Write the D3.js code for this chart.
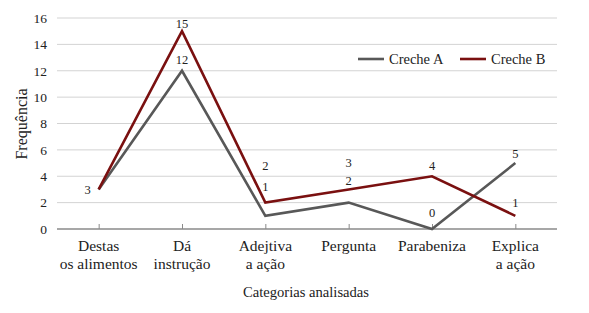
<!DOCTYPE html>
<html>
<head>
<meta charset="utf-8">
<script src="https://cdn.jsdelivr.net/npm/d3@7"></script>
<style>
	body { margin: 0; background: #fff; }
	svg text { font-family: 'Liberation Serif', 'Times New Roman', serif !important; fill: #222; }
</style>
</head>
<body>
<div id="chart"></div>
<script>
// Data
var categories = [["Destas", "os alimentos"], ["Dá", "instrução"], ["Adejtiva", "a ação"], ["Pergunta"], ["Parabeniza"], ["Explica", "a ação"]];
var crecheA = [3, 12, 1, 2, 0, 5];
var crecheB = [3, 15, 2, 3, 4, 1];
var yTicks = [0, 2, 4, 6, 8, 10, 12, 14, 16];
var seriesNames = ["Creche A", "Creche B"];

// Label nudges (pixels above the point); null = no label
var labelNudgeA = [null, 11, 29, 22, 16, 9];
var labelNudgeB = [null, 8, 37, 27, 11, 13];

var width = 589, height = 313;
var margin = {top: 18, right: 32, bottom: 84, left: 57};
var color = d3.scaleOrdinal().domain(seriesNames).range(["#585858", "#7a1010"]);

var svg = d3.select("#chart").append("svg")
		.attr("width", width)
		.attr("height", height);

var xScale = d3.scalePoint()
		.domain(d3.range(categories.length))
		.range([margin.left, width - margin.right])
		.padding(0.5);

var yScale = d3.scaleLinear()
		.domain([0, 16])
		.range([height - margin.bottom, margin.top]);

// Gridlines
svg.append("g").selectAll("line")
	.data(yTicks.filter(function(d) { return d > 0; }))
	.enter().append("line")
		.attr("x1", margin.left)
		.attr("x2", width - margin.right)
		.attr("y1", function(d) { return yScale(d); })
		.attr("y2", function(d) { return yScale(d); })
		.style("stroke", "#d3d3d3")
		.style("stroke-width", 1);

// Y axis labels
var yAxis = d3.axisLeft(yScale).tickValues(yTicks).tickSize(0).tickPadding(10);
var yG = svg.append("g")
		.attr("transform", "translate(" + margin.left + ",0)")
		.call(yAxis);
yG.attr("font-family", null).attr("font-size", null);
yG.select(".domain").remove();
yG.selectAll("text")
		.style("font-size", "13.5px")
		.style("fill", "#222");

// X axis
var xAxis = d3.axisBottom(xScale).tickSize(-5).tickFormat("");
var xG = svg.append("g")
		.attr("transform", "translate(0," + yScale(0) + ")")
		.call(xAxis);
xG.select(".domain")
		.attr("d", "M" + margin.left + ",0H" + (width - margin.right))
		.style("stroke", "#8a8a8a")
		.style("stroke-width", 1.5);
xG.selectAll(".tick line").style("stroke", "#8a8a8a");

// Category labels
var catText = svg.append("g").selectAll("text")
	.data(categories)
	.enter().append("text")
		.attr("text-anchor", "middle")
		.attr("x", function(d, i) { return xScale(i); })
		.attr("y", yScale(0) + 22)
		.style("font-size", "15.5px");
catText.selectAll("tspan")
	.data(function(d) { return d; })
	.enter().append("tspan")
		.attr("x", function() { return d3.select(this.parentNode).attr("x"); })
		.attr("dy", function(d, i) { return i ? 18 : 0; })
		.text(function(d) { return d; });

// Axis titles
svg.append("text")
		.attr("x", 306)
		.attr("y", 297)
		.attr("text-anchor", "middle")
		.style("font-size", "14.6px")
		.text("Categorias analisadas");

svg.append("text")
		.attr("transform", "translate(27,124) rotate(-90)")
		.attr("text-anchor", "middle")
		.style("font-size", "16px")
		.text("Frequência");

// Lines
var line = d3.line()
		.x(function(d, i) { return xScale(i); })
		.y(function(d) { return yScale(d); });

var series = [
	{name: "Creche A", values: crecheA, nudge: labelNudgeA},
	{name: "Creche B", values: crecheB, nudge: labelNudgeB}
];

svg.append("g").selectAll("path")
	.data(series)
	.enter().append("path")
		.attr("d", function(d) { return line(d.values); })
		.style("fill", "none")
		.style("stroke", function(d) { return color(d.name); })
		.style("stroke-width", 2.6)
		.style("stroke-linejoin", "miter");

// Data labels
series.forEach(function(s) {
	var pts = s.values.map(function(v, i) { return {i: i, v: v, nudge: s.nudge[i]}; })
			.filter(function(p) { return p.nudge !== null; });
	svg.append("g").selectAll("text")
		.data(pts)
		.enter().append("text")
			.attr("x", function(p) { return xScale(p.i); })
			.attr("y", function(p) { return yScale(p.v) - p.nudge; })
			.attr("dy", "0.35em")
			.attr("text-anchor", "middle")
			.style("font-size", "12.5px")
			.text(function(p) { return p.v; });
});

// Shared first point label
svg.append("text")
		.attr("x", xScale(0) - 11)
		.attr("y", yScale(crecheA[0]))
		.attr("dy", "0.35em")
		.attr("text-anchor", "middle")
		.style("font-size", "12.5px")
		.text(crecheA[0]);

// Legend
var legend = svg.append("g").attr("transform", "translate(358,59)");
var legendItem = legend.selectAll("g")
	.data(seriesNames)
	.enter().append("g")
		.attr("transform", function(d, i) { return "translate(" + (i * 102) + ",0)"; });
legendItem.append("line")
		.attr("x1", 0).attr("x2", 26)
		.style("stroke", function(d) { return color(d); })
		.style("stroke-width", 2.6);
legendItem.append("text")
		.attr("x", 31)
		.attr("dy", "0.35em")
		.style("font-size", "14.5px")
		.text(function(d) { return d; });
</script>
</body>
</html>
